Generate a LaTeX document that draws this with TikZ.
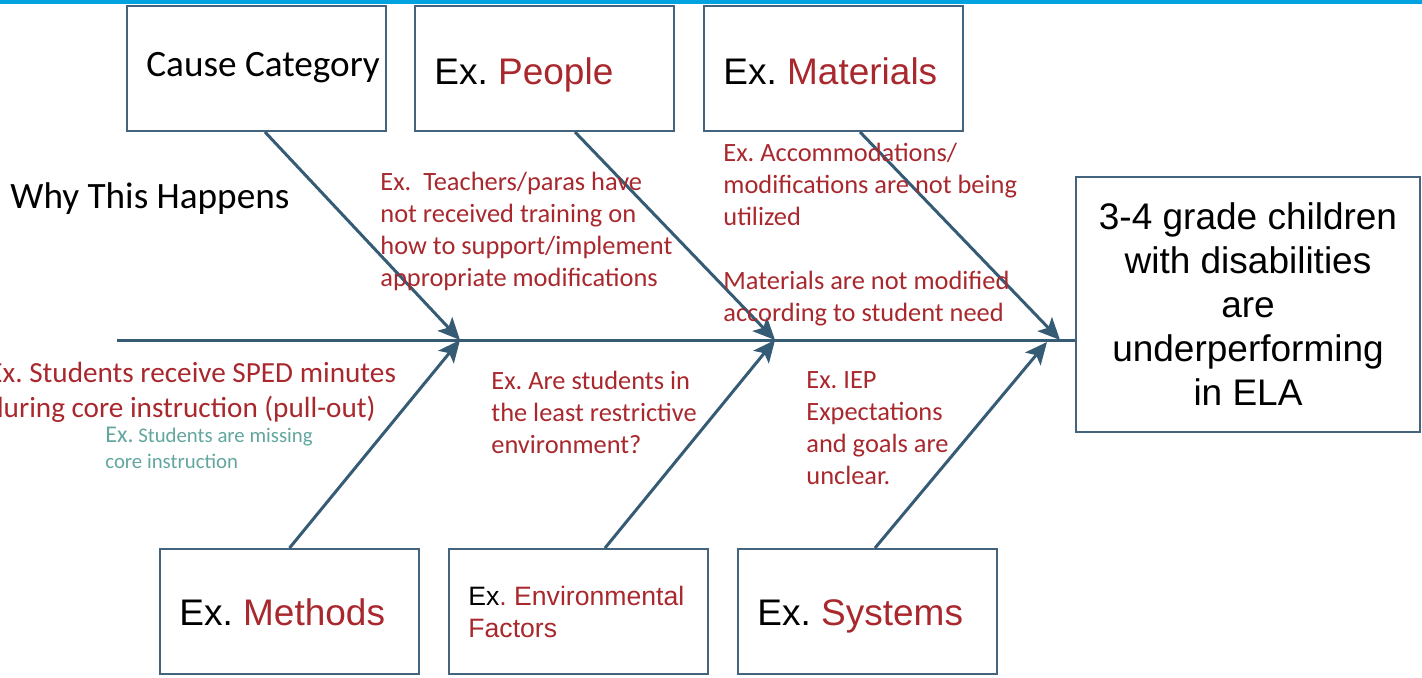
\documentclass[tikz,border=0pt]{standalone}
\usepackage{fontspec}
\setmainfont{Carlito}
\newfontfamily\arialfont{Liberation Sans}
\usetikzlibrary{arrows.meta}
\definecolor{bonecol}{RGB}{53,91,117}
\definecolor{edgecol}{RGB}{68,100,125}
\definecolor{exred}{RGB}{168,40,45}
\definecolor{exteal}{RGB}{98,166,158}
\definecolor{topblue}{RGB}{0,163,224}
\frenchspacing

\begin{document}
\begin{tikzpicture}[x=0.5pt, y=-0.5pt,
    catbox/.style={draw=edgecol, line width=1pt, minimum width=129.5pt, minimum height=62.5pt, inner sep=0pt},
    catlbl/.style={anchor=base west, inner sep=0pt, font=\arialfont\fontsize{18.5}{22}\selectfont},
    note/.style={anchor=north west, inner sep=0pt, align=left, text=exred, font=\fontsize{13.2}{16}\selectfont},
    bone/.style={draw=bonecol, line width=1.5pt, -{Stealth[length=11pt,width=10pt,inset=2.5pt]}},
    spine/.style={draw=bonecol, line width=1.5pt}]
    \useasboundingbox (0,0) rectangle (1422,677);
    \fill[topblue] (0,0) rectangle (1422,3.5);

    \node[catbox] (cat) at (256,68.5) {};
    \node[catbox] (people) at (544.5,68.5) {};
    \node[catbox] (mat) at (833.5,68.5) {};
    \node[catbox] (meth) at (289.5,611.5) {};
    \node[catbox] (env) at (578.5,611.5) {};
    \node[catbox] (sys) at (867.5,611.5) {};
    \node[catbox, minimum width=172pt, minimum height=127.5pt, align=center,
        font=\arialfont\fontsize{18.5}{22}\selectfont] (effect) at (1248,304.5)
        {3-4 grade children\\with disabilities\\are\\underperforming\\in ELA};

    \node[anchor=base west, inner sep=0pt, font=\fontsize{18.6}{22}\selectfont] (catname) at (146,76) {Cause Category};
    \node[catlbl] (peoplename) at (434,84) {Ex. \textcolor{exred}{People}};
    \node[catlbl] (matname) at (723,84) {Ex. \textcolor{exred}{Materials}};
    \node[catlbl] (methname) at (179,625) {Ex. \textcolor{exred}{Methods}};
    \node[catlbl] (sysname) at (757,625) {Ex. \textcolor{exred}{Systems}};
    \node[anchor=north west, inner sep=0pt, align=left, text=exred,
        font=\arialfont\fontsize{13.3}{16}\selectfont] (envname) at (468,586)
        {\textcolor{black}{Ex}. Environmental\\Factors};

    \node[anchor=base west, inner sep=0pt, font=\fontsize{18.6}{22}\selectfont] (why) at (10,208) {Why This Happens};

    \coordinate (tail) at (117,340);
    \coordinate (j1) at (460,340);
    \coordinate (j2) at (775,340);
    \coordinate (j3) at (1060,340);
    \coordinate (j4) at (1047,342);

    \draw[spine] (tail) -- (tail -| effect.west);
    \draw[bone] ([xshift=4.5pt]cat.south) -- (j1);
    \draw[bone] ([xshift=15.25pt]people.south) -- (j2);
    \draw[bone] ([xshift=13.25pt]mat.south) -- (j3);
    \draw[bone] (meth.north) -- (j1);
    \draw[bone] ([xshift=13.25pt]env.north) -- (j2);
    \draw[bone] ([xshift=3.75pt]sys.north) -- (j4);

    \node[note] (teachers) at (380,172) {Ex.\ \ Teachers/paras have\\not received training on\\how to support/implement\\appropriate modifications};
    \node[note] (accom) at (723,143) {Ex. Accommodations/\\modifications are not being\\utilized};
    \node[note] (modif) at (723,271) {Materials are not modified\\according to student need};
    \node[note, font=\fontsize{14.6}{17.5}\selectfont] (sped) at (-12,362) {Ex. Students receive SPED minutes\\during core instruction (pull-out)};
    \node[note, text=exteal, font=\fontsize{10.4}{13}\selectfont] (missing) at (105,427) {{\fontsize{12}{13}\selectfont Ex.} Students are missing\\core instruction};
    \node[note] (lre) at (491,371) {Ex. Are students in\\the least restrictive\\environment?};
    \node[note] (iep) at (806,371) {Ex. IEP\\Expectations\\and goals are\\unclear.};
\end{tikzpicture}
\end{document}
